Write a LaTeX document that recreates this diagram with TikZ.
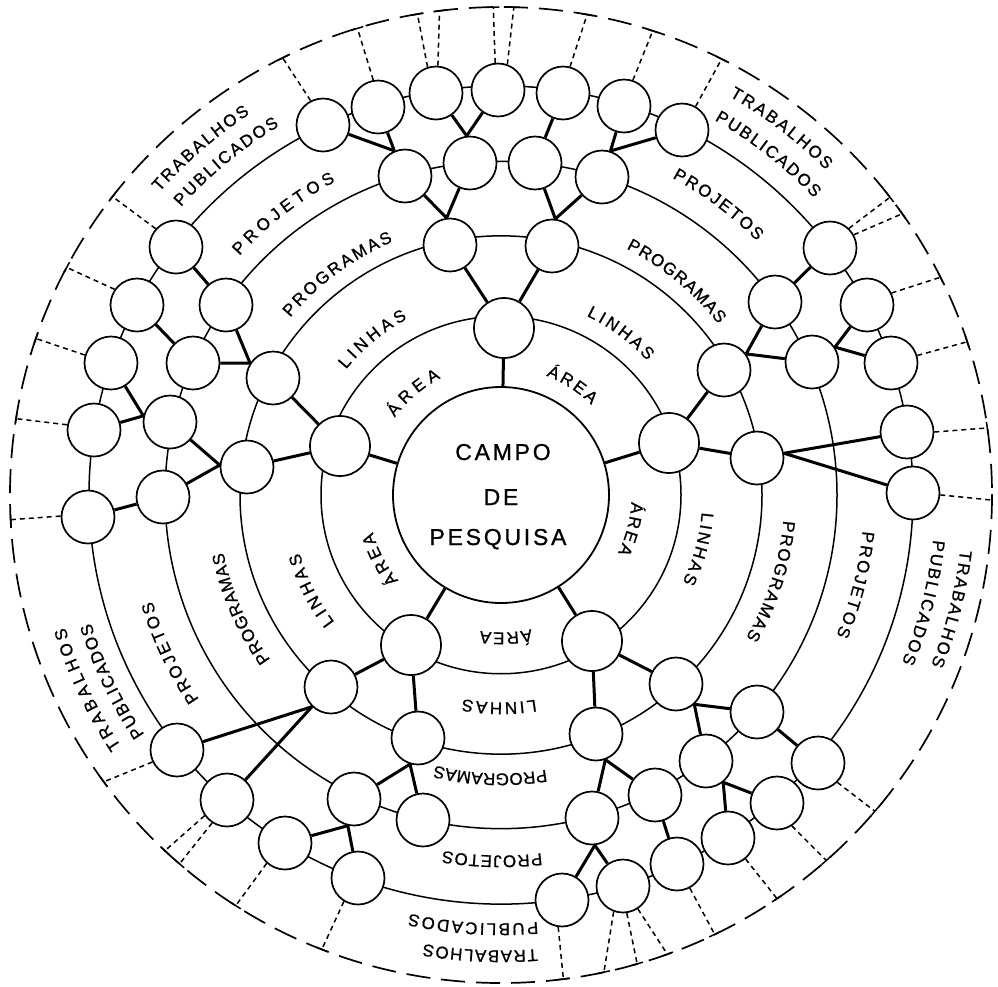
\documentclass[tikz,border=0pt]{standalone}
\usepackage{fontspec}
\usetikzlibrary{decorations.text,calc}
\newfontfamily\lblfam[FakeBold=0.9]{Liberation Sans}
\newfontfamily\ctrfam[LetterSpace=12,FakeBold=0.9]{Liberation Sans}
\newcommand\lblfont{\lblfam\fontsize{17}{19}\selectfont}
\newcommand\ringlbl[4]{%
  \pgfmathsetmacro\rlR{#2-6.5}%
  \pgfmathsetmacro\rlD{28.6479*#3/\rlR}%
  \pgfmathsetmacro\rlA{#1-\rlD}%
  \pgfmathsetmacro\rlB{#1+\rlD}%
  \path[decorate,decoration={text along path,text={|\lblfont|#4},text align={fit to path}}]
    ($(C)+(\rlA:\rlR)$) arc[start angle=\rlA,end angle=\rlB,radius=\rlR];
}
\begin{document}
\begin{tikzpicture}[x=1pt,y=-1pt,
  ring/.style={line width=1.5pt},
  outerring/.style={line width=1.7pt,dash pattern=on 24pt off 11pt},
  nd/.style={circle,draw,line width=1.7pt,fill=white,minimum size=53pt,inner sep=0pt},
  areand/.style={nd,minimum size=60pt},
  edge/.style={line width=3pt},
  dl/.style={line width=1.5pt,dash pattern=on 5pt off 4pt},
  tk/.style={line width=1.5pt},
  ctrtxt/.style={font=\ctrfam\fontsize{23}{25}\selectfont,anchor=base,inner sep=0pt}]
\fill[white] (0,0) rectangle (998,986);
\useasboundingbox (0,0) rectangle (998,986);
\coordinate (C) at (501,495);
% rings
\foreach \r in {180,261,336,412}
  \draw[ring] (C) circle[x radius=\r, y radius={0.993*\r}];
\draw[outerring] (C) circle[x radius=491, y radius=488];
% labels
\ringlbl{-130.6}{138}{61}{ÁREA}
\ringlbl{-129.5}{206}{80}{LINHAS}
\ringlbl{-126.5}{282}{129}{PROGRAMAS}
\ringlbl{-127.7}{361}{122}{PROJETOS}
\ringlbl{-130.9}{463}{120}{TRABALHOS}
\ringlbl{-129.5}{437}{128}{PUBLICADOS}
\ringlbl{-57.1}{134}{54}{ÁREA}
\ringlbl{-53.5}{205}{76}{LINHAS}
\ringlbl{-50.6}{283}{120}{PROGRAMAS}
\ringlbl{-53.2}{367}{106}{PROJETOS}
\ringlbl{-52.6}{466}{122}{TRABALHOS}
\ringlbl{-51.9}{438}{127}{PUBLICADOS}
\ringlbl{14.7}{137}{53}{ÁREA}
\ringlbl{15.3}{208}{73}{LINHAS}
\ringlbl{17.7}{290}{124}{PROGRAMAS}
\ringlbl{14.2}{370}{108}{PROJETOS}
\ringlbl{14.2}{469}{119}{TRABALHOS}
\ringlbl{14.3}{441}{127}{PUBLICADOS}
\ringlbl{88}{144}{51}{ÁREA}
\ringlbl{90.5}{214}{73}{LINHAS}
\ringlbl{92.2}{285}{112}{PROGRAMAS}
\ringlbl{91.4}{367}{99}{PROJETOS}
\ringlbl{92.6}{462}{114}{TRABALHOS}
\ringlbl{93.7}{435}{129}{PUBLICADOS}
\ringlbl{152}{140}{55}{ÁREA}
\ringlbl{153.3}{216}{78}{LINHAS}
\ringlbl{156.4}{290}{118}{PROGRAMAS}
\ringlbl{154.5}{371}{109}{PROJETOS}
\ringlbl{154.8}{462}{132}{TRABALHOS}
\ringlbl{154.4}{436}{124}{PUBLICADOS}
% center
\node[circle,draw,line width=1.8pt,fill=white,minimum size=216pt,inner sep=0pt] (ctr) at (C) {};
\node[ctrtxt] (c1) at (503,460) {CAMPO};
\node[ctrtxt] (c2) at (501,505) {DE};
\node[ctrtxt] (c3) at (498,545) {PESQUISA};
% area nodes
\node[areand] (T0) at (504,328) {};
\node[areand] (Q) at (340,446) {};
\node[areand] (R0) at (669,443) {};
\node[areand] (BL) at (411,645) {};
\node[areand] (BR) at (592,641) {};
% nodes
\foreach \n/\x/\y in {n1/323/125,n2/378/107,n3/436/93,n4/498/90,n5/563/93,n6/624/106,n7/682/130,
  m1/405/176,m2/470/163,m3/535/163,m4/602/177,l1/450/245,l2/552/246,
  H/176/247,I/137/305,J/226/305,K/111/363,L/193/363,M/273/378,N/94/430,O/170/422,P/247/467,S/88/517,U/163/497,
  V1/830/248,V2/775/302,V3/867/305,V4/724/370,V5/812/362,V6/891/363,V7/757/458,V8/907/432,V9/913/493,
  W1/331/687,W2/418/738,W3/177/750,W4/227/800,W5/354/799,W6/423/820,W7/285/843,W8/358/878,
  X1/676/684,X2/596/734,X3/757/712,X4/818/763,X5/706/761,X6/655/795,X7/777/803,X8/592/818,X9/728/838,X10/677/864,X11/623/886,X12/562/900}
  \node[nd] (\n) at (\x,\y) {};
% edges
\foreach \a in {T0,Q,R0,BL,BR} \draw[edge] (ctr) -- (\a);
\draw[edge] (T0) -- (l1); \draw[edge] (T0) -- (l2);
\draw[edge] (l1.97) -- (m1); \draw[edge] (l1.97) -- (m2);
\draw[edge] (l2.83) -- (m3); \draw[edge] (l2.83) -- (m4);
\draw[edge] (m1.113) -- (n1); \draw[edge] (m1.113) -- (n2);
\draw[edge] (m2.97) -- (n3); \draw[edge] (m2.97) -- (n4);
\draw[edge] (m3) -- (n5);
\draw[edge] (m4.72) -- (n6); \draw[edge] (m4.72) -- (n7);
\draw[edge] (Q) -- (M); \draw[edge] (Q) -- (P);
\draw[edge] (M.147) -- (J); \draw[edge] (M.147) -- (L);
\draw[edge] (J) -- (H); \draw[edge] (L) -- (I);
\draw[edge] (P.176) -- (O); \draw[edge] (P.176) -- (U);
\draw[edge] (O.167) -- (K); \draw[edge] (O.167) -- (N);
\draw[edge] (U) -- (S);
\draw[edge] (R0) -- (V4); \draw[edge] (R0) -- (V7);
\draw[edge] (V4.36) -- (V2); \draw[edge] (V4.36) -- (V5);
\draw[edge] (V2) -- (V1);
\draw[edge] (V5.33) -- (V3); \draw[edge] (V5.33) -- (V6);
\draw[edge] (V7.10) -- (V8); \draw[edge] (V7.10) -- (V9);
\draw[edge] (BL) -- (W1); \draw[edge] (BL) -- (W2);
\draw[edge] (W1.226) -- (W3); \draw[edge] (W1.226) -- (W4);
\draw[edge] (W2.253) -- (W5); \draw[edge] (W2.253) -- (W6);
\draw[edge] (W5.257) -- (W7); \draw[edge] (W5.257) -- (W8);
\draw[edge] (BR) -- (X1); \draw[edge] (BR) -- (X2);
\draw[edge] (X1.312) -- (X3); \draw[edge] (X1.312) -- (X5);
\draw[edge] (X3) -- (X4);
\draw[edge] (X5.309) -- (X7); \draw[edge] (X5.309) -- (X9);
\draw[edge] (X2.290) -- (X6); \draw[edge] (X2.290) -- (X8);
\draw[edge] (X6) -- (X10);
\draw[edge] (X8.276) -- (X11); \draw[edge] (X8.276) -- (X12);
% dashed lines to outer ring
\foreach \n/\a/\e in {n1/117.5/-116.4,n2/100.5/-107.0,n3/108/-99.8,n3/86/-97.2,n4/96/-90.9,n4/70/-88.5,
  n5/75/-79.9,n6/71/-72.0,n7/60.5/-63.3,
  V1/46/-37.6,V1/29/-35.2,V3/26.6/-26.5,V6/16.5/-18.3,V8/0/-7.9,V9/-4/0.6,
  X4/-45/40.4,X7/-57/48.5,X9/-50/55.8,X10/-62/64.2,X11/-110/77.9,X11/-82/73.9,X11/-57/70.2,X12/-98/82.7,
  W8/-121/111.4,W7/-132/122.7,W4/-145/133.2,W4/-123/130.9,W3/-154/144.0,
  S/178/177.1,N/169/-171.0,K/163/-161.3,I/145/-152.2,H/138/-142.3}
{
  \draw[dl] (\n.\a) -- ($(C)+(\e:491 and 488)$);
  \draw[tk] ($(C)+({\e-0.7}:491 and 488)$) -- ($(C)+({\e+0.7}:491 and 488)$);
}
\end{tikzpicture}
\end{document}
